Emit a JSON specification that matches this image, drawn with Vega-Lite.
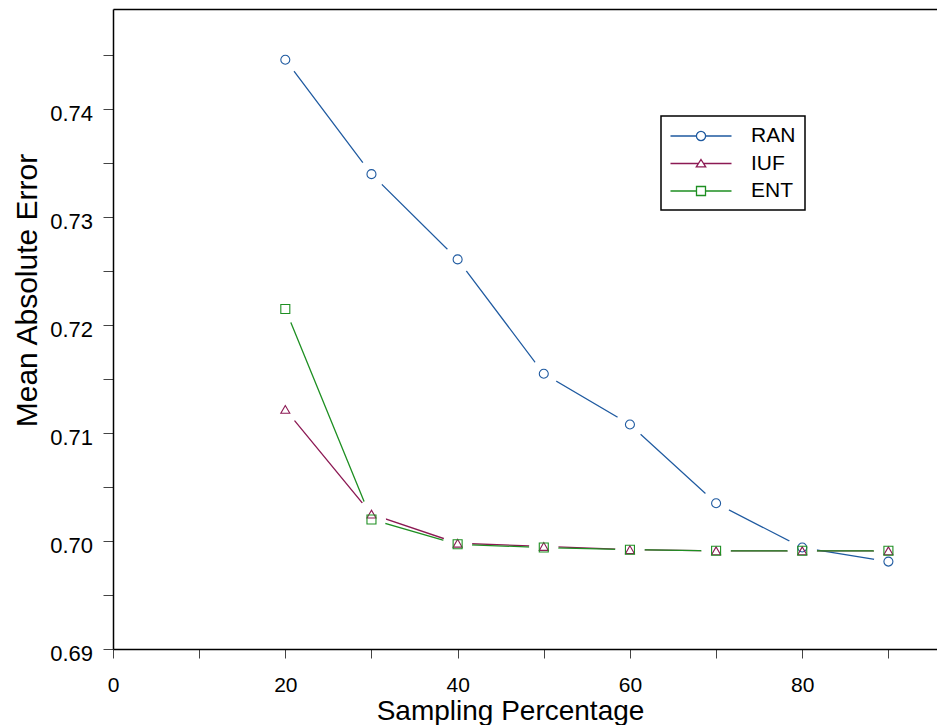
{
  "$schema": "https://vega.github.io/schema/vega-lite/v6.json",
  "width": 824,
  "height": 640,
  "autosize": "none",
  "padding": {"left": 113, "top": 9, "right": 0, "bottom": 76},
  "background": "white",
  "config": {
    "font": "Liberation Sans",
    "view": {"stroke": null},
    "axis": {"grid": false, "labelFont": "Liberation Sans", "titleFont": "Liberation Sans"}
  },
  "data": {
    "values": [
      {"series": "RAN", "pct": 20, "mae": 0.7446},
      {"series": "RAN", "pct": 30, "mae": 0.7340},
      {"series": "RAN", "pct": 40, "mae": 0.7261},
      {"series": "RAN", "pct": 50, "mae": 0.7155},
      {"series": "RAN", "pct": 60, "mae": 0.7108},
      {"series": "RAN", "pct": 70, "mae": 0.7035},
      {"series": "RAN", "pct": 80, "mae": 0.6994},
      {"series": "RAN", "pct": 90, "mae": 0.6981},
      {"series": "IUF", "pct": 20, "mae": 0.7122},
      {"series": "IUF", "pct": 30, "mae": 0.7025},
      {"series": "IUF", "pct": 40, "mae": 0.6998},
      {"series": "IUF", "pct": 50, "mae": 0.6995},
      {"series": "IUF", "pct": 60, "mae": 0.6992},
      {"series": "IUF", "pct": 70, "mae": 0.6991},
      {"series": "IUF", "pct": 80, "mae": 0.6991},
      {"series": "IUF", "pct": 90, "mae": 0.6991},
      {"series": "ENT", "pct": 20, "mae": 0.7215},
      {"series": "ENT", "pct": 30, "mae": 0.7020},
      {"series": "ENT", "pct": 40, "mae": 0.6997},
      {"series": "ENT", "pct": 50, "mae": 0.6994},
      {"series": "ENT", "pct": 60, "mae": 0.6992},
      {"series": "ENT", "pct": 70, "mae": 0.6991},
      {"series": "ENT", "pct": 80, "mae": 0.6991},
      {"series": "ENT", "pct": 90, "mae": 0.6991}
    ]
  },
  "resolve": {"axis": {"x": "independent"}},
  "encoding": {
    "y": {
      "field": "mae", "type": "quantitative",
      "scale": {"domain": [0.69, 0.7493], "nice": false, "zero": false},
      "axis": {
        "values": [0.69, 0.695, 0.70, 0.705, 0.71, 0.715, 0.72, 0.725, 0.73, 0.735, 0.74, 0.745],
        "format": ".2f",
        "labelExpr": "round(datum.value * 1000) % 10 === 0 ? datum.label : ''",
        "labelFontSize": 22, "labelColor": "black", "labelPadding": 10.5, "labelOffset": 4,
        "labelOverlap": false, "labelBound": false, "labelFlush": false,
        "tickSize": 10, "tickColor": "#444", "tickWidth": 1,
        "domainColor": "black", "domainWidth": 1.5,
        "title": "Mean Absolute Error", "titleFontSize": 30, "titleFontWeight": "normal",
        "titleColor": "black", "titleX": -77, "titleY": 281, "titleBaseline": "alphabetic", "titleAngle": 270,
        "encode": {"ticks": {"update": {"x2": {"signal": "round(datum.value * 1000) % 10 === 0 ? -10 : -5"}}}}
      }
    }
  },
  "layer": [
    {
      "mark": {"type": "line", "strokeWidth": 1.3},
      "encoding": {
        "x": {
          "field": "pct", "type": "quantitative",
          "scale": {"domain": [0, 95.64], "nice": false, "zero": false},
          "axis": {
            "orient": "bottom",
            "values": [0, 10, 20, 30, 40, 50, 60, 70, 80, 90],
            "labelExpr": "datum.value % 20 === 0 ? datum.label : ''",
            "labelFontSize": 21, "labelColor": "black", "labelPadding": 16,
            "labelOverlap": false, "labelBound": false, "labelFlush": false,
            "tickSize": 9, "tickColor": "#444", "tickWidth": 1,
            "domainColor": "black", "domainWidth": 1.5,
            "title": "Sampling Percentage", "titleFontSize": 28, "titleFontWeight": "normal",
            "titleColor": "black", "titleX": 397, "titleY": 70, "titleBaseline": "alphabetic",
            "encode": {"ticks": {"update": {"y2": {"signal": "datum.value % 20 === 0 ? 9 : 4"}}}}
          }
        },
        "color": {
          "field": "series", "type": "nominal",
          "scale": {"domain": ["RAN", "IUF", "ENT"], "range": ["#1f5aa0", "#8c1a54", "#1e8f22"]},
          "legend": {
            "title": null,
            "orient": "none", "legendX": 548, "legendY": 107,
            "strokeColor": "black", "padding": 9, "fillColor": "white",
            "labelFontSize": 21, "labelColor": "black", "labelFont": "Liberation Sans",
            "symbolSize": 400, "symbolStrokeWidth": 1.3, "symbolOffset": 20, "labelOffset": 39,
            "rowPadding": 6.5,
            "encode": {
              "symbols": {"update": {
                "shape": {"signal": "datum.value === 'RAN' ? 'M-3.05,0H-0.46M0.46,0H3.05M-0.46,0A0.46,0.46,0,1,1,0.46,0A0.46,0.46,0,1,1,-0.46,0' : datum.value === 'IUF' ? 'M-3.05,0H-0.26M0.26,0H3.05M0,-0.4L0.47,0.33L-0.47,0.33Z' : 'M-3.05,0H-0.45M0.45,0H3.05M-0.45,-0.45H0.45V0.45H-0.45Z'"},
                "fill": {"value": "transparent"},
                "strokeWidth": {"value": 1.3}
              }},
              "legend": {"update": {"strokeWidth": {"value": 1.5}}}
            }
          }
        }
      }
    },
    {
      "mark": {"type": "point", "shape": "circle", "filled": true, "fill": "white", "stroke": null, "size": 841, "opacity": 1},
      "encoding": {
        "x": {"field": "pct", "type": "quantitative",
          "axis": {"orient": "top", "domain": true, "domainColor": "black", "domainWidth": 1.5, "ticks": false, "labels": false, "title": null}}
      }
    },
    {
      "transform": [{"filter": "datum.series === 'RAN'"}],
      "mark": {"type": "point", "shape": "circle", "filled": false, "size": 81, "strokeWidth": 1.1, "opacity": 1},
      "encoding": {
        "x": {"field": "pct", "type": "quantitative", "axis": null},
        "color": {"field": "series", "type": "nominal", "legend": null}
      }
    },
    {
      "transform": [{"filter": "datum.series === 'IUF'"}],
      "mark": {"type": "point", "shape": "triangle-up", "filled": false, "size": 81, "strokeWidth": 1.1, "opacity": 1},
      "encoding": {
        "x": {"field": "pct", "type": "quantitative", "axis": null},
        "color": {"field": "series", "type": "nominal", "legend": null}
      }
    },
    {
      "transform": [{"filter": "datum.series === 'ENT'"}],
      "mark": {"type": "point", "shape": "square", "filled": false, "size": 81, "strokeWidth": 1.1, "opacity": 1},
      "encoding": {
        "x": {"field": "pct", "type": "quantitative", "axis": null},
        "color": {"field": "series", "type": "nominal", "legend": null}
      }
    }
  ]
}
